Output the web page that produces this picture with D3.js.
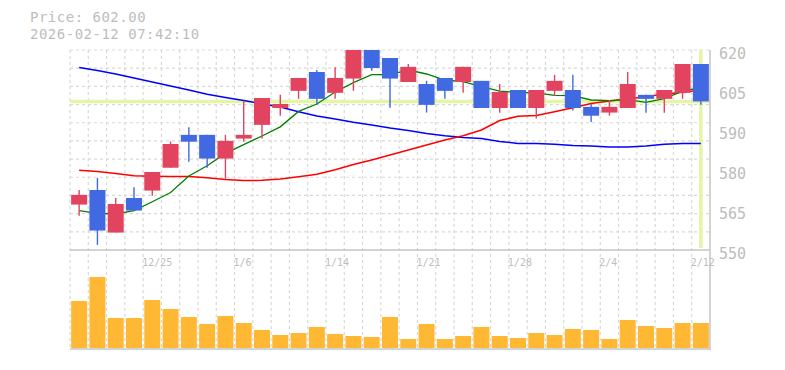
<!DOCTYPE html>
<html><head><meta charset="utf-8">
<script src="https://cdn.jsdelivr.net/npm/d3@7"></script>
<style>
html,body{margin:0;padding:0;background:#fff;}
svg{display:block;}
text{font-family:"DejaVu Sans Mono",monospace;}
</style></head>
<body>
<svg id="c" width="785" height="370"></svg>
<script>
// ---- data ----
const dates = ["12/19","12/22","12/23","12/24","12/25","12/26","12/29","12/30","1/5","1/6",
  "1/7","1/8","1/9","1/13","1/14","1/15","1/16","1/19","1/20","1/21",
  "1/22","1/23","1/26","1/27","1/28","1/29","1/30","2/2","2/3","2/4",
  "2/5","2/6","2/9","2/10","2/12"];
const openP  = [565.9,571.0,556.1,568.2,570.8,578.8,590.3,590.3,582.0,589.0,
  593.8,599.7,605.7,612.3,605.0,610.0,620.0,617.2,608.8,608.1,
  610.2,608.8,609.2,599.7,606.0,599.7,605.7,606.0,600.1,598.1,
  599.7,604.3,602.9,605.0,615.1];
const highP  = [571.0,575.2,568.2,572.0,577.3,588.0,593.0,590.3,590.3,602.2,
  603.2,604.3,610.2,613.0,614.0,620.0,620.0,617.2,615.1,609.2,
  610.2,614.1,609.2,608.1,606.0,606.0,611.3,611.3,601.1,602.5,
  612.3,604.3,606.0,615.1,615.1];
const lowP   = [562.0,551.8,556.1,563.8,569.0,578.8,580.9,578.8,575.0,587.9,
  589.0,597.0,602.9,600.8,602.9,605.7,612.7,599.8,608.8,598.1,
  602.9,605.0,599.7,598.0,599.7,596.0,603.9,598.8,594.8,597.0,
  599.7,598.0,598.0,602.9,600.8];
const closeP = [569.3,556.8,566.1,563.8,577.3,587.1,587.9,582.0,588.2,590.3,
  603.2,601.1,610.2,602.9,610.2,620.0,613.7,610.0,614.1,600.8,
  605.7,614.1,599.7,605.3,599.7,606.0,609.2,599.7,597.0,600.1,
  608.1,602.9,606.0,615.1,602.0];
const volume = [47000,71000,30000,30000,48000,39000,31000,24000,32000,25000,
  18000,13000,15000,21000,14000,12000,11000,31000,9000,24000,
  9000,12000,21000,12000,10000,15000,13000,19000,18000,9000,
  28000,22000,20000,25000,25000];
const maShort = [563.8,562.8,562.6,563.8,566.9,570.1,575.9,579.5,583.8,586.9,
  589.9,593.1,598.5,601.1,605.3,608.6,611.4,611.4,613.0,611.6,
  609.5,608.9,607.2,605.6,605.2,605.0,604.1,604.0,602.5,602.3,
  602.6,601.7,603.0,605.6,606.8];
const maMid = [577.9,577.5,576.8,576.0,575.8,575.7,575.7,575.3,574.7,574.3,
  574.4,574.85,575.65,576.5,578.1,579.9,581.5,583.25,585.0,586.75,
  588.5,590.0,592.0,595.3,596.8,597.1,598.4,599.8,601.3,602.15,
  602.85,603.7,604.5,605.2,606.0];
const maLong = [613.9,612.8,611.6,610.2,608.8,607.4,606.0,604.5,603.4,602.3,
  601.2,600.05,598.4,596.9,595.85,594.7,593.75,592.7,591.8,590.8,
  590.0,589.4,589.0,588.0,587.3,587.3,587.0,586.6,586.4,586.05,
  586.05,586.4,587.0,587.3,587.3];
const dateTickLabels = ["12/25","1/6","1/14","1/21","1/28","2/4","2/12"];
const priceTicks = [550,564,578,592,606,620];
const priceTickLabels = ["550","565","580","590","605","620"];
const currentPrice = 602.00;
const timestamp = "2026-02-12 07:42:10";

// ---- layout ----
const L = 70, R = 710, PT = 50, PB = 250, VT = 250, VB = 349;
const svg = d3.select("#c");
const gridColor = "#d9d9d9", borderColor = "#c4c4c4", textColor = "#bdbdbd";
const upColor = "#e2445f", downColor = "#4169e1";

const x = d3.scaleBand().domain(dates).range([L, R]).paddingInner(0.125).paddingOuter(0.0625);
const step = x.step();
const slotLeft = d => x(d) - step * 0.0625;
const cx = d => x(d) + x.bandwidth() / 2;
const y = d3.scaleLinear().domain([550, 620]).range([PB, PT]);
const yv = d3.scaleLinear().domain([0, d3.max(volume)]).range([348, 277]);

const data = dates.map((d, i) => ({d, o: openP[i], h: highP[i], l: lowP[i], c: closeP[i], v: volume[i]}));

// clip
svg.append("defs").append("clipPath").attr("id", "pc")
  .append("rect").attr("x", L).attr("y", PT).attr("width", R - L).attr("height", PB - PT);

// horizontal grid (price)
const hGrid = d3.range(12).map(k => PT + k * (PB - PT) / 11);
svg.append("g").selectAll("line").data(hGrid.slice(0, 11)).join("line")
  .attr("x1", L).attr("x2", R).attr("y1", d => d).attr("y2", d => d)
  .attr("stroke", gridColor).attr("stroke-width", 1.2).attr("stroke-dasharray", "3,3");
// vertical grid (both panels)
svg.append("g").selectAll("line").data(dates).join("line")
  .attr("x1", d => slotLeft(d)).attr("x2", d => slotLeft(d))
  .attr("y1", PT).attr("y2", VB)
  .attr("stroke", gridColor).attr("stroke-width", 1.2).attr("stroke-dasharray", "3,3");

// current price highlight lines
svg.append("line").attr("x1", L).attr("x2", R).attr("y1", y(currentPrice)).attr("y2", y(currentPrice))
  .attr("stroke", "#e4f5a6").attr("stroke-width", 3.5);
svg.append("line").attr("x1", cx(dates[dates.length-1])).attr("x2", cx(dates[dates.length-1]))
  .attr("y1", PT).attr("y2", PB - 2)
  .attr("stroke", "#e4f5a6").attr("stroke-width", 3.5);

const pg = svg.append("g").attr("clip-path", "url(#pc)");

// moving averages
const line = arr => d3.line().x((d, i) => cx(dates[i])).y(d => y(d))(arr);
pg.append("path").attr("d", line(maLong)).attr("fill", "none").attr("stroke", "#0000ff").attr("stroke-width", 1.5);
pg.append("path").attr("d", line(maMid)).attr("fill", "none").attr("stroke", "#ff0000").attr("stroke-width", 1.5);
pg.append("path").attr("d", line(maShort)).attr("fill", "none").attr("stroke", "#008000").attr("stroke-width", 1.3);

// candles
const cg = pg.append("g").selectAll("g").data(data).join("g");
cg.append("line").attr("x1", d => cx(d.d)).attr("x2", d => cx(d.d))
  .attr("y1", d => y(d.h)).attr("y2", d => y(d.l))
  .attr("stroke", d => d.c >= d.o ? upColor : downColor).attr("stroke-width", 1.4);
cg.append("rect").attr("x", d => x(d.d)).attr("width", x.bandwidth())
  .attr("y", d => y(Math.max(d.o, d.c)))
  .attr("height", d => Math.max(1, Math.abs(y(d.o) - y(d.c))))
  .attr("fill", d => d.c >= d.o ? upColor : downColor);

// volume bars
svg.append("g").selectAll("rect").data(data).join("rect")
  .attr("x", d => x(d.d)).attr("width", x.bandwidth())
  .attr("y", d => yv(d.v)).attr("height", d => yv(0) - yv(d.v))
  .attr("fill", "#ffb833");

// borders
svg.append("line").attr("x1", L).attr("x2", R).attr("y1", VT).attr("y2", VT).attr("stroke", borderColor).attr("stroke-width", 1.5);
svg.append("line").attr("x1", L).attr("x2", R).attr("y1", VB).attr("y2", VB).attr("stroke", borderColor).attr("stroke-width", 1.5);
svg.append("line").attr("x1", R).attr("x2", R).attr("y1", PT).attr("y2", VB + 1).attr("stroke", borderColor).attr("stroke-width", 1.5);

// y axis labels
const yAxis = d3.axisRight(y).tickValues(priceTicks).tickSize(0).tickPadding(9)
  .tickFormat((d, i) => priceTickLabels[i]);
const ya = svg.append("g").attr("transform", `translate(${R},0)`).call(yAxis);
ya.select(".domain").remove();
ya.selectAll("text").attr("fill", textColor).attr("font-size", 15)
  .attr("font-family", "DejaVu Sans Mono, monospace").attr("dy", "0.55em");

// date labels
svg.append("g").selectAll("text").data(dateTickLabels).join("text")
  .attr("x", d => slotLeft(d) - 1).attr("y", 266)
  .attr("fill", textColor).attr("font-size", 10).text(d => d);

// title
svg.append("text").attr("x", 30).attr("y", 22).attr("fill", textColor).attr("font-size", 14)
  .attr("letter-spacing", 0.5).text("Price: " + currentPrice.toFixed(2));
svg.append("text").attr("x", 30).attr("y", 38.5).attr("fill", textColor).attr("font-size", 14)
  .attr("letter-spacing", 0.5).text(timestamp);
</script>
</body></html>
